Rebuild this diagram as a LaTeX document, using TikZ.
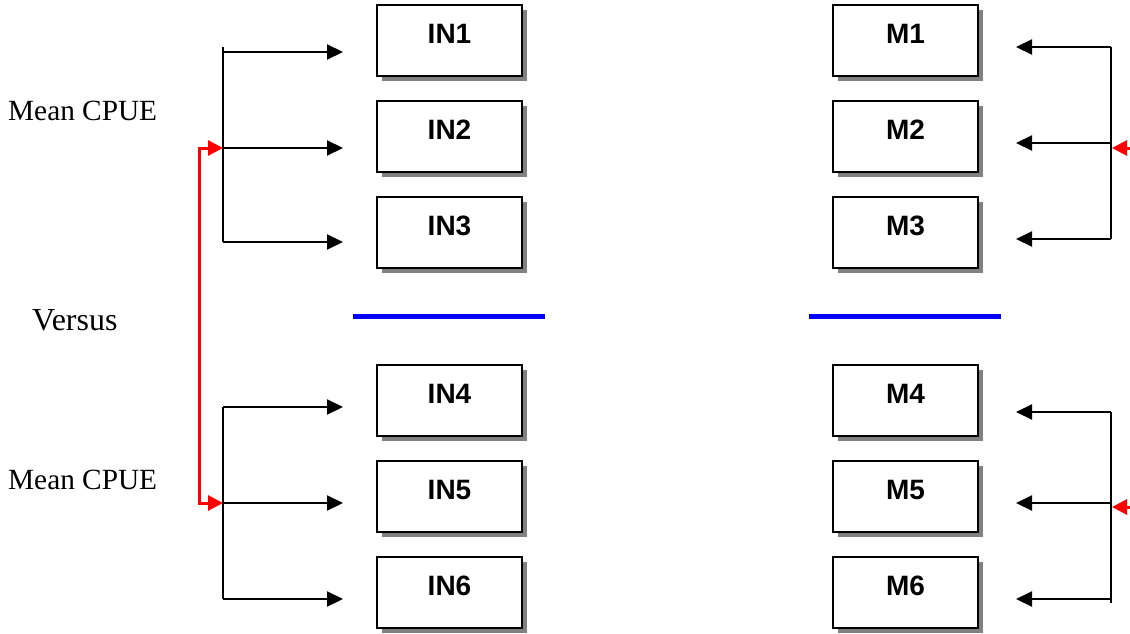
\documentclass[tikz,border=0pt]{standalone}
\usepackage{fontspec}
\setmainfont{Liberation Serif}
\newfontfamily\boxfont{Liberation Sans}
\usetikzlibrary{arrows.meta,shadows}

\tikzset{
  unitbox/.style={draw=black, line width=2pt, fill=white,
    minimum width=145pt, minimum height=71pt, inner sep=0pt,
    text height=20pt, text depth=14pt,
    font=\boxfont\bfseries\fontsize{28}{30}\selectfont,
    general shadow={fill=gray, shadow xshift=5pt, shadow yshift=-5pt}},
  branch/.style={draw=black, line width=2.2pt},
  feed/.style={branch, -{Triangle[length=16pt,width=15pt]}},
  link/.style={draw=red, line width=3pt,
    {Triangle[length=15pt,width=15pt]}-{Triangle[length=15pt,width=15pt]}},
  inlet/.style={draw=red, line width=3pt, -{Triangle[length=15pt,width=15pt]}},
  divider/.style={draw=blue, line width=5pt},
  caption/.style={font=\fontsize{29.3}{31}\selectfont, anchor=base west, inner sep=0pt},
  bigcaption/.style={caption, font=\fontsize{32}{34}\selectfont}
}

\begin{document}
\begin{tikzpicture}[x=1pt,y=-1pt]
\clip (0,0) rectangle (1130,634);

% boxes
\foreach \name/\lab/\cy in {in1/IN1/40.5, in2/IN2/136.5, in3/IN3/232.5,
                            in4/IN4/400.5, in5/IN5/496.5, in6/IN6/592.5}
  \node[unitbox] (\name) at (449.5,\cy) {\lab};
\foreach \name/\lab/\cy in {m1/M1/40.5, m2/M2/136.5, m3/M3/232.5,
                            m4/M4/400.5, m5/M5/496.5, m6/M6/592.5}
  \node[unitbox] (\name) at (905.5,\cy) {\lab};

% captions
\node[caption] (capA) at (8,121) {Mean CPUE};
\node[bigcaption] (capV) at (32,330) {Versus};
\node[caption] (capB) at (8,489) {Mean CPUE};

% left branch points and arrow ends
\coordinate (la1) at (223,52);  \coordinate (ea1) at (343,52);
\coordinate (la2) at (223,148); \coordinate (ea2) at (343,148);
\coordinate (la3) at (223,242); \coordinate (ea3) at (343,242);
\coordinate (lb1) at (223,407); \coordinate (eb1) at (343,407);
\coordinate (lb2) at (223,503); \coordinate (eb2) at (343,503);
\coordinate (lb3) at (223,599); \coordinate (eb3) at (343,599);

\draw[branch] ([yshift=5pt]la1) -- (la3);
\draw[branch] (lb1) -- (lb3);
\foreach \s/\e in {la1/ea1, la2/ea2, la3/ea3, lb1/eb1, lb2/eb2, lb3/eb3}
  \draw[feed] (\s) -- (\e);

% red link between the two left groups
\coordinate (lred) at (199,300);
\draw[link] (la2) -| (lred) |- (lb2);

% right branch points and arrow ends
\coordinate (ra1) at (1111,47);  \coordinate (fa1) at (1016,47);
\coordinate (ra2) at (1111,143); \coordinate (fa2) at (1016,143);
\coordinate (ra3) at (1111,239); \coordinate (fa3) at (1016,239);
\coordinate (rb1) at (1111,412); \coordinate (fb1) at (1016,412);
\coordinate (rb2) at (1111,503); \coordinate (fb2) at (1016,503);
\coordinate (rb3) at (1111,599); \coordinate (fb3) at (1016,599);

\draw[branch] (ra1) -- (ra3);
\draw[branch] (rb1) -- ([yshift=-4pt]rb3);
\foreach \s/\e in {ra1/fa1, ra2/fa2, ra3/fa3, rb1/fb1, rb2/fb2, rb3/fb3}
  \draw[feed] (\s) -- (\e);

% red inputs entering from the right
\coordinate (rin1) at (1145,148); \coordinate (rtip1) at (1112,148);
\coordinate (rin2) at (1145,507); \coordinate (rtip2) at (1112,507);
\draw[inlet] (rin1) -- (rtip1);
\draw[inlet] (rin2) -- (rtip2);

% blue dividers
\coordinate (d1s) at (353,316); \coordinate (d1e) at (545,316);
\coordinate (d2s) at (809,316); \coordinate (d2e) at (1001,316);
\draw[divider] (d1s) -- (d1e);
\draw[divider] (d2s) -- (d2e);
\end{tikzpicture}
\end{document}
